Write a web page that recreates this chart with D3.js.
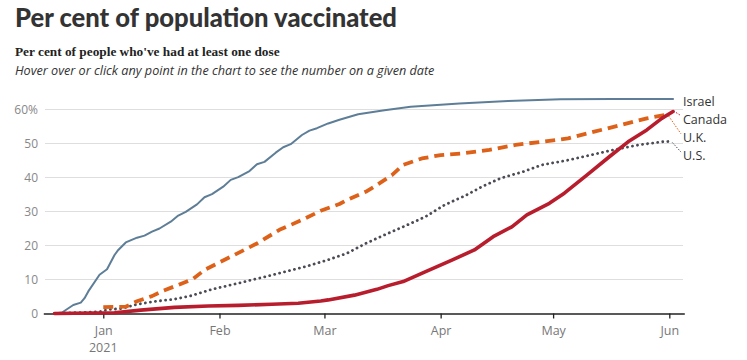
<!DOCTYPE html>
<html><head><meta charset="utf-8">
<script src="https://cdn.jsdelivr.net/npm/d3@7"></script>
<style>
html,body{margin:0;padding:0;background:#fff;}
svg{display:block;}
</style></head>
<body>
<svg id="chart" width="747" height="360"></svg>
<script>
// ---- data ----
const israelDates = ["2020-12-19","2020-12-21","2020-12-24","2020-12-26","2020-12-27","2020-12-28","2020-12-31","2021-01-02","2021-01-04","2021-01-05","2021-01-07","2021-01-10","2021-01-12","2021-01-14","2021-01-16","2021-01-19","2021-01-21","2021-01-23","2021-01-26","2021-01-28","2021-01-30","2021-02-02","2021-02-04","2021-02-06","2021-02-09","2021-02-11","2021-02-13","2021-02-16","2021-02-18","2021-02-20","2021-02-23","2021-02-25","2021-02-27","2021-03-02","2021-03-05","2021-03-10","2021-03-17","2021-03-24","2021-04-06","2021-04-19","2021-05-03","2021-05-17","2021-06-02"];
const israelValues = [0,0.3,2.5,3.2,4.5,6.5,11.4,13.0,17.2,18.7,20.9,22.3,22.9,24.1,25.0,27.0,28.8,29.9,32.1,34.2,35.1,37.3,39.3,40.1,41.9,43.9,44.6,47.3,48.9,49.8,52.5,53.8,54.5,55.9,57.0,58.6,59.8,60.8,61.8,62.5,63.0,63.1,63.1];

const canadaDates = ["2020-12-19","2021-01-04","2021-01-11","2021-01-20","2021-01-29","2021-02-06","2021-02-15","2021-02-22","2021-02-28","2021-03-02","2021-03-09","2021-03-15","2021-03-18","2021-03-22","2021-03-28","2021-04-04","2021-04-10","2021-04-15","2021-04-20","2021-04-24","2021-04-30","2021-05-04","2021-05-10","2021-05-16","2021-05-21","2021-05-26","2021-05-30","2021-06-02"];
const canadaValues = [0,0.2,1.0,1.8,2.2,2.4,2.7,3.0,3.7,4.0,5.4,7.1,8.2,9.4,12.3,15.7,18.7,22.6,25.5,29.0,32.4,35.4,40.7,46.1,50.5,54.0,57.4,59.4];

const ukDates = ["2021-01-01","2021-01-07","2021-01-10","2021-01-14","2021-01-17","2021-01-21","2021-01-25","2021-01-28","2021-02-04","2021-02-11","2021-02-17","2021-02-23","2021-02-28","2021-03-05","2021-03-07","2021-03-12","2021-03-15","2021-03-19","2021-03-22","2021-03-27","2021-04-01","2021-04-07","2021-04-14","2021-04-21","2021-04-28","2021-05-05","2021-05-12","2021-05-19","2021-05-26","2021-05-31"];
const ukValues = [1.9,2.0,3.6,5.1,6.7,8.4,10.2,12.8,16.7,20.6,24.6,27.5,30.2,32.2,33.4,35.8,37.8,40.7,43.7,45.6,46.6,47.1,48.1,49.6,50.5,51.5,53.5,55.4,57.4,58.4];

const usDates = ["2020-12-19","2020-12-24","2020-12-31","2021-01-02","2021-01-06","2021-01-10","2021-01-15","2021-01-20","2021-01-24","2021-01-30","2021-02-06","2021-02-15","2021-02-24","2021-03-02","2021-03-07","2021-03-12","2021-03-17","2021-03-23","2021-03-28","2021-04-02","2021-04-08","2021-04-12","2021-04-17","2021-04-23","2021-04-28","2021-05-05","2021-05-11","2021-05-17","2021-05-24","2021-05-30","2021-06-01"];
const usValues = [0,0.2,0.5,1.1,1.5,2.7,3.6,4.2,5.1,7.1,8.9,11.3,13.8,15.8,17.7,20.6,23.1,26.0,28.5,31.9,34.9,37.3,39.8,41.7,43.7,45.1,46.6,48.1,49.6,50.5,50.6];

const seriesNames = ["Israel","Canada","U.K.","U.S."];
const yTickValues = [0,10,20,30,40,50,60];
const xTickLabels = ["Jan","Feb","Mar","Apr","May","Jun"];
const xTickDates = ["2021-01-01","2021-02-01","2021-03-01","2021-04-01","2021-05-01","2021-06-01"];

// ---- setup ----
const parse = d3.timeParse("%Y-%m-%d");
const svg = d3.select("#chart");
const mLeft = 43.3, mRight = 684.3, mTop = 109.5, mBottom = 313.5;

const x = d3.scaleTime().domain([parse("2020-12-16"), parse("2021-06-05")]).range([mLeft, mRight]);
const y = d3.scaleLinear().domain([0, 60]).range([mBottom, mTop]);

const series = [
  {name: seriesNames[0], dates: israelDates, values: israelValues, color: "#5e7e98", width: 2, dash: null, cap: "round"},
  {name: seriesNames[3], dates: usDates, values: usValues, color: "#4a4b55", width: 2.8, dash: "0.1,5", cap: "round"},
  {name: seriesNames[2], dates: ukDates, values: ukValues, color: "#dd6119", width: 3.8, dash: "10,6", cap: "butt"},
  {name: seriesNames[1], dates: canadaDates, values: canadaValues, color: "#b81d2d", width: 3.6, dash: null, cap: "round"}
];
series.forEach(s => s.data = s.dates.map((d, i) => ({date: parse(d), value: s.values[i]})));

// ---- titles ----
svg.append("text").attr("x", 15).attr("y", 27)
  .style("font-family", "Lato, 'Open Sans', sans-serif").style("font-weight", 900)
  .style("font-size", "25.6px").style("fill", "#333")
  .text("Per cent of population vaccinated");
svg.append("text").attr("x", 15).attr("y", 56)
  .style("font-family", "'Liberation Serif', 'Times New Roman', serif").style("font-weight", 700)
  .style("font-size", "13.3px").style("fill", "#222")
  .text("Per cent of people who've had at least one dose");
svg.append("text").attr("x", 15).attr("y", 75)
  .style("font-family", "'Open Sans', sans-serif").style("font-style", "italic")
  .style("font-size", "12.65px").style("fill", "#333")
  .text("Hover over or click any point in the chart to see the number on a given date");

// ---- grid + y axis ----
const yAxis = d3.axisLeft(y).tickValues(yTickValues).tickSize(0).tickPadding(0)
  .tickFormat(d => d === 60 ? "60%" : d);
const gy = svg.append("g").attr("transform", `translate(38,0)`).call(yAxis);
gy.select(".domain").remove();
gy.selectAll("text").style("font-family", "'Open Sans', sans-serif").style("font-size", "12px").style("fill", "#888");

svg.append("g").selectAll("line").data(yTickValues.filter(v => v > 0)).join("line")
  .attr("x1", 45).attr("x2", 683).attr("y1", d => y(d)).attr("y2", d => y(d))
  .attr("stroke", "#dedede").attr("stroke-width", 1);

// ---- x axis ----
const tickDates = xTickDates.map(parse);
const xAxis = d3.axisBottom(x).tickValues(tickDates).tickSize(5).tickSizeOuter(0).tickPadding(8)
  .tickFormat((d, i) => xTickLabels[i]);
const gx = svg.append("g").attr("transform", `translate(0,${mBottom})`).call(xAxis);
gx.select(".domain").attr("stroke", "#222").attr("stroke-width", 1.3);
gx.selectAll(".tick line").attr("stroke", "#222").attr("stroke-width", 1.3);
gx.selectAll("text").style("font-family", "'Open Sans', sans-serif").style("font-size", "12.5px").style("fill", "#777");
gx.append("text").attr("x", x(tickDates[0])).attr("y", 38).attr("text-anchor", "middle")
  .style("font-family", "'Open Sans', sans-serif").style("font-size", "12.5px").style("fill", "#777")
  .text("2021");

// ---- lines ----
const line = d3.line().x(d => x(d.date)).y(d => y(d.value));
svg.append("g").selectAll("path").data(series).join("path")
  .attr("d", s => line(s.data))
  .attr("fill", "none")
  .attr("stroke", s => s.color)
  .attr("stroke-width", s => s.width)
  .attr("stroke-dasharray", s => s.dash)
  .attr("stroke-linecap", s => s.cap)
  .attr("stroke-linejoin", "round");

// ---- end labels with dodge ----
const labelOrder = series.slice().sort((a, b) => b.data[b.data.length-1].value - a.data[a.data.length-1].value);
let prev = -Infinity;
labelOrder.forEach(s => {
  const last = s.data[s.data.length - 1];
  s.lx = x(last.date); s.ly = y(last.value);
  s.labelY = Math.max(s.ly + 2.5, prev + 18.2);
  prev = s.labelY;
});
const labelX = 683;
svg.append("g").selectAll("line").data(labelOrder.filter(s => Math.abs(s.labelY - s.ly) > 5)).join("line")
  .attr("x1", s => s.lx + 3).attr("y1", s => s.ly + 1)
  .attr("x2", labelX - 2).attr("y2", s => s.labelY - 4)
  .attr("stroke", s => s.color).attr("stroke-width", 1).attr("stroke-dasharray", "1.5,1.5");
svg.append("g").selectAll("text").data(labelOrder).join("text")
  .attr("x", labelX).attr("y", s => s.labelY).attr("dy", "0.35em")
  .style("font-family", "'Open Sans', sans-serif").style("font-size", "12.5px").style("fill", "#333")
  .text(s => s.name);
</script>
</body></html>
